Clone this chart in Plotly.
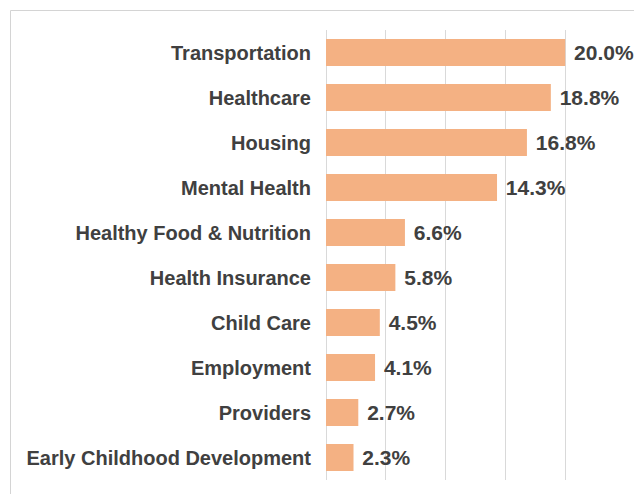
import plotly.graph_objects as go

categories = ["Transportation", "Healthcare", "Housing", "Mental Health",
              "Healthy Food & Nutrition", "Health Insurance", "Child Care",
              "Employment", "Providers", "Early Childhood Development"]
values = [20.0, 18.8, 16.8, 14.3, 6.6, 5.8, 4.5, 4.1, 2.7, 2.3]
x_ticks = [0, 5, 10, 15, 20, 25]

family = "Liberation Sans, Arial, sans-serif"

fig = go.Figure(go.Bar(
    x=values, y=categories, orientation="h",
    marker=dict(color="#F4B183", line=dict(width=0)),
    width=0.6,
    text=[f"\u00a0{v:.1f}%" for v in values],
    textposition="outside", constraintext="none", cliponaxis=False,
    textfont=dict(family=family, size=21, color="#404040", weight="bold"),
))

# page body has an 8px margin, so the figure is 8px smaller than the window
fig.update_layout(
    width=634, height=486,
    margin=dict(l=318, r=17, t=22, b=14),
    plot_bgcolor="white", paper_bgcolor="white",
    showlegend=False,
    font=dict(family=family, size=20, color="#404040"),
    xaxis=dict(range=[0, 25], tickvals=x_ticks, showticklabels=False,
               showgrid=True, gridcolor="#d9d9d9", gridwidth=1,
               zeroline=True, zerolinecolor="#d9d9d9", zerolinewidth=1,
               fixedrange=True),
    yaxis=dict(autorange="reversed", showgrid=False, zeroline=False,
               ticklabelstandoff=14,
               tickfont=dict(family=family, size=20, color="#404040", weight="bold")),
    shapes=[dict(type="rect", xref="paper", yref="paper",
                 x0=-1.0552, x1=2.0, y0=-0.5, y1=1.0433,
                 line=dict(color="#d4d4d4", width=1), fillcolor="rgba(0,0,0,0)",
                 layer="below")],
)

fig.write_html("out.html")
